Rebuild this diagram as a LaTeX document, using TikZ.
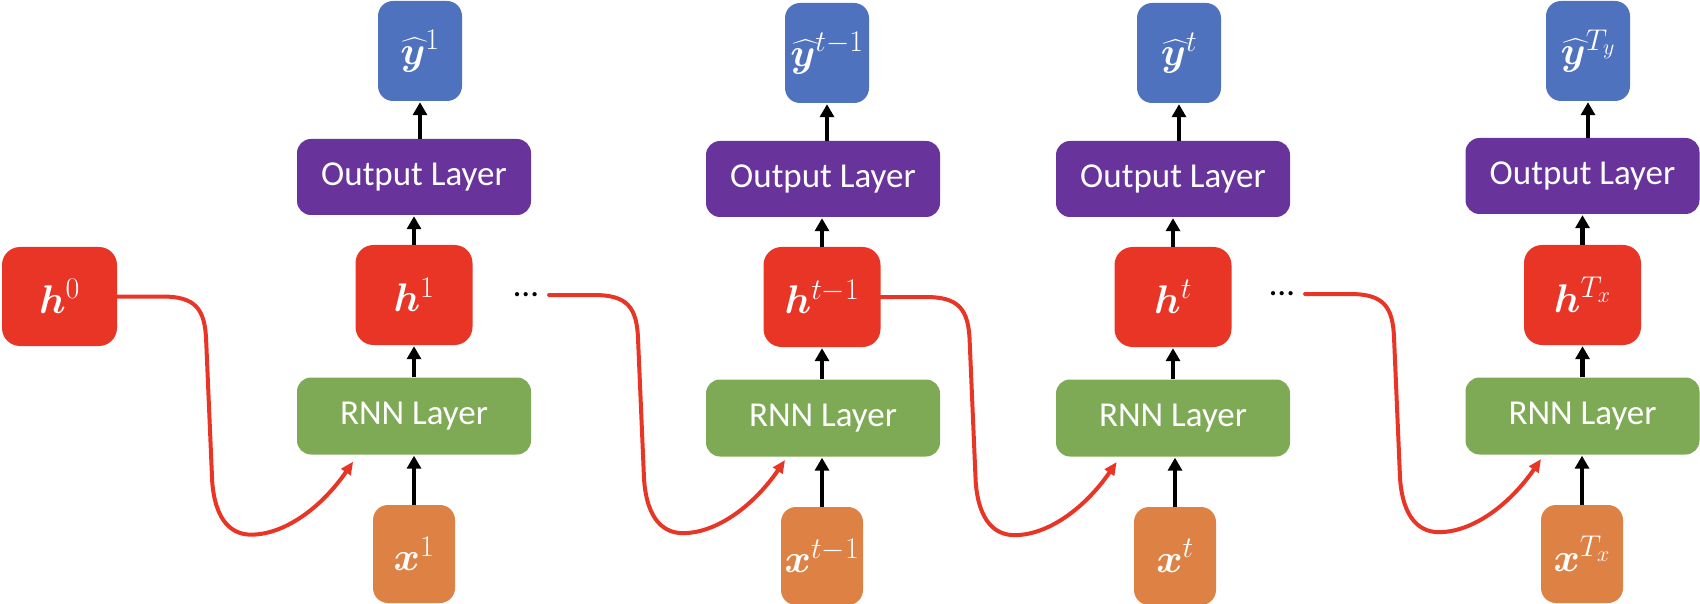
\RequirePackage{fix-cm}
\documentclass[tikz,border=0pt]{standalone}
\usepackage{amsmath,bm}
\usepackage{fontspec}
\setmainfont{Carlito}
\DeclareMathSizes{40}{40}{30}{22}
\usetikzlibrary{arrows.meta,calc}
\definecolor{cblue}{RGB}{79,114,190}
\definecolor{cpurple}{RGB}{104,52,155}
\definecolor{cred}{RGB}{232,53,38}
\definecolor{cgreen}{RGB}{126,170,85}
\definecolor{corange}{RGB}{221,130,68}
\newcommand\rcurve[2]{%
  \draw[redarrow] (#1) -- ($(#1)+(45,0)$)
    .. controls ($(#1)+(78,0)$) and ($(#1)+(88,12)$) .. ($(#1)+(89,45)$)
    -- ($(#1)+(95,185)$)
    .. controls ($(#1)+(98,225)$) and ($(#1)+(115,240)$) .. ($(#1)+(138,238)$)
    .. controls ($(#1)+(170,236)$) and ($(#1)+(205,210)$) .. (#2);}
\begin{document}
\begin{tikzpicture}[x=1pt,y=-1pt,
  box/.style={rectangle,rounded corners=#1,inner sep=0pt,draw=none,text=white,
    font=\fontsize{35}{40}\selectfont},
  box/.default=14pt,
  mth/.style={font=\fontsize{40}{44}\selectfont},
  yh/.style={box=15pt,mth,fill=cblue,minimum width=84pt,minimum height=100pt},
  outl/.style={box=14pt,fill=cpurple,minimum width=234pt,minimum height=76pt},
  hb/.style={box=18pt,mth,fill=cred,minimum width=117pt,minimum height=100pt},
  rnn/.style={box=14pt,fill=cgreen,minimum width=234pt,minimum height=77pt},
  xb/.style={box=15pt,mth,fill=corange,minimum width=82pt,minimum height=98pt},
  dotsn/.style={inner sep=0pt,outer sep=11pt,font=\fontsize{35}{40}\selectfont},
  blk/.style={line width=4.5pt,-{Triangle[length=13pt,width=14pt]},shorten >=1pt},
  redarrow/.style={draw=cred,line width=4pt,line cap=round,-{Triangle[length=13pt,width=11pt]}}
]
\useasboundingbox (0,0) rectangle (1700,604);

% h0
\node[hb,minimum width=115pt,minimum height=99pt] (h0) at (59.5,296.5) {$\boldsymbol{h}^{0}$};

% column 1
\node[yh] (y1) at (420,51) {$\widehat{\boldsymbol{y}}^{1}$};
\node[outl] (o1) at (414,177) {Output Layer};
\node[hb] (h1) at (414,295) {$\boldsymbol{h}^{1}$};
\node[rnn] (r1) at (414,416) {RNN Layer};
\node[xb] (x1) at (414,554) {$\boldsymbol{x}^{1}$};

% column t-1
\node[yh] (y2) at (827,53) {$\widehat{\boldsymbol{y}}^{t-1}$};
\node[outl] (o2) at (823,179) {Output Layer};
\node[hb] (h2) at (822,297) {$\boldsymbol{h}^{t-1}$};
\node[rnn] (r2) at (823,418) {RNN Layer};
\node[xb] (x2) at (822,556) {$\boldsymbol{x}^{t-1}$};

% column t
\node[yh] (y3) at (1179,53) {$\widehat{\boldsymbol{y}}^{t}$};
\node[outl] (o3) at (1173,179) {Output Layer};
\node[hb] (h3) at (1173,297) {$\boldsymbol{h}^{t}$};
\node[rnn] (r3) at (1173,418) {RNN Layer};
\node[xb] (x3) at (1175,556) {$\boldsymbol{x}^{t}$};

% column Tx
\node[yh] (y4) at (1588,51) {$\widehat{\boldsymbol{y}}^{T_y}$};
\node[outl] (o4) at (1582.5,176) {Output Layer};
\node[hb] (h4) at (1582.5,295) {$\boldsymbol{h}^{T_x}$};
\node[rnn] (r4) at (1582.5,416) {RNN Layer};
\node[xb] (x4) at (1582,554) {$\boldsymbol{x}^{T_x}$};

% dots
\node[dotsn] (d1) at (526,295) {…};
\node[dotsn] (d2) at (1282,294) {…};

% black arrows
\foreach \i in {1,2,3,4}{
  \draw[blk] (x\i.north) -- (x\i.north |- r\i.south);
  \draw[blk] (r\i.north -| h\i.south) -- (h\i.south);
  \draw[blk] (h\i.north) -- (h\i.north |- o\i.south);
  \draw[blk] (o\i.north -| y\i.south) -- (y\i.south);
}

% red recurrent connectors
\coordinate (t1) at ($(h0.east)+(236,165)$);
\coordinate (t2) at ($(d1.east)+(236,165)$);
\coordinate (t3) at ($(h2.east)+(236,165)$);
\coordinate (t4) at ($(d2.east)+(236,165)$);
\rcurve{h0.east}{t1}
\rcurve{d1.east}{t2}
\rcurve{h2.east}{t3}
\rcurve{d2.east}{t4}
\end{tikzpicture}
\end{document}
